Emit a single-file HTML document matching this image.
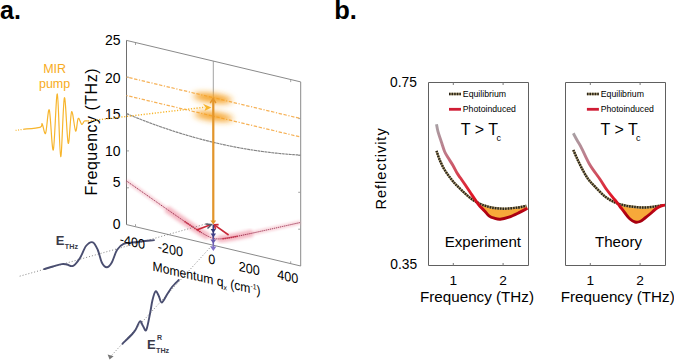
<!DOCTYPE html>
<html><head><meta charset="utf-8"><style>
html,body{margin:0;padding:0;background:#fff;}
svg{display:block;font-family:"Liberation Sans",sans-serif;}
</style></head><body>
<svg width="674" height="360" viewBox="0 0 674 360">

<defs>
 <filter id="blur3" x="-50%" y="-100%" width="200%" height="300%"><feGaussianBlur stdDeviation="3"/></filter>
 <filter id="blur1" x="-50%" y="-80%" width="200%" height="260%"><feGaussianBlur stdDeviation="1.2"/></filter>
 <filter id="blur2" x="-50%" y="-80%" width="200%" height="260%"><feGaussianBlur stdDeviation="1.8"/></filter>
 <linearGradient id="purp" gradientUnits="userSpaceOnUse" x1="0" y1="225" x2="0" y2="251"><stop offset="0" stop-color="#353878"/><stop offset="0.45" stop-color="#4a4a92"/><stop offset="0.6" stop-color="#6a5cb0"/><stop offset="1" stop-color="#8474cc"/></linearGradient>
</defs>
<text x="0" y="19" font-size="25" font-weight="bold">a.</text>
<g stroke="#8a8a8a" stroke-width="1" fill="none">
 <path d="M126.5,40.4 L300.7,81.9 L300.7,266 L126.5,224.6"/>
 <path d="M126.5,224.6 L126.5,40.4" stroke="#6e6e6e"/>
 <path d="M135.5,43.0 v2 M135.5,226.2 v-2 M290.7,80.1 v2 M290.7,263.3 v-2" stroke-width="0.8"/>
 <path d="M300.2,229.2 h-2 M127,187.8 h2 M300.2,192.3 h-2 M127,150.9 h2 M300.2,155.5 h-2 M127,114.1 h2 M300.2,118.6 h-2 M127,77.2 h2" stroke-width="0.8"/>
 <path d="M213.3,61.1 L213.3,224" stroke-width="0.8"/>
</g>
<g font-size="14" text-anchor="end">
 <text x="120.5" y="44.8">25</text>
 <text x="120.5" y="82.5">20</text>
 <text x="120.5" y="119.2">15</text>
 <text x="120.5" y="155.7">10</text>
 <text x="120.5" y="187.1">5</text>
 <text x="120.5" y="228.7">0</text>
</g>
<text transform="translate(97.2,131.8) rotate(-90)" font-size="16" letter-spacing="0.5" text-anchor="middle">Frequency (THz)</text>
<g stroke="#f6b258" stroke-width="1.25" fill="none" stroke-dasharray="1.2,1.6,3.4,1.6,3.4,1.6">
 <path d="M126.50,77.00 L300.50,118.50"/>
 <path d="M126.50,95.50 L300.50,137.00"/>
</g>
<path d="M126.50,113.60 L127.50,114.02 L128.50,114.44 L129.50,114.86 L130.50,115.27 L131.50,115.69 L132.50,116.10 L133.50,116.51 L134.50,116.91 L135.50,117.32 L136.50,117.72 L137.50,118.12 L138.50,118.52 L139.50,118.91 L140.50,119.31 L141.50,119.70 L142.50,120.09 L143.50,120.48 L144.50,120.86 L145.50,121.24 L146.50,121.63 L147.50,122.00 L148.50,122.38 L149.50,122.76 L150.50,123.13 L151.50,123.50 L152.50,123.87 L153.50,124.23 L154.50,124.60 L155.50,124.96 L156.50,125.32 L157.50,125.68 L158.50,126.03 L159.50,126.39 L160.50,126.74 L161.50,127.09 L162.50,127.44 L163.50,127.78 L164.50,128.13 L165.50,128.47 L166.50,128.81 L167.50,129.14 L168.50,129.48 L169.50,129.81 L170.50,130.14 L171.50,130.47 L172.50,130.79 L173.50,131.12 L174.50,131.44 L175.50,131.76 L176.50,132.08 L177.50,132.39 L178.50,132.71 L179.50,133.02 L180.50,133.33 L181.50,133.64 L182.50,133.94 L183.50,134.24 L184.50,134.54 L185.50,134.84 L186.50,135.14 L187.50,135.43 L188.50,135.73 L189.50,136.02 L190.50,136.30 L191.50,136.59 L192.50,136.87 L193.50,137.16 L194.50,137.44 L195.50,137.71 L196.50,137.99 L197.50,138.26 L198.50,138.53 L199.50,138.80 L200.50,139.07 L201.50,139.34 L202.50,139.60 L203.50,139.86 L204.50,140.12 L205.50,140.37 L206.50,140.63 L207.50,140.88 L208.50,141.13 L209.50,141.38 L210.50,141.62 L211.50,141.87 L212.50,142.11 L213.50,142.35 L214.50,142.59 L215.50,142.82 L216.50,143.06 L217.50,143.29 L218.50,143.52 L219.50,143.74 L220.50,143.97 L221.50,144.19 L222.50,144.41 L223.50,144.63 L224.50,144.85 L225.50,145.06 L226.50,145.27 L227.50,145.48 L228.50,145.69 L229.50,145.89 L230.50,146.10 L231.50,146.30 L232.50,146.50 L233.50,146.70 L234.50,146.89 L235.50,147.08 L236.50,147.28 L237.50,147.46 L238.50,147.65 L239.50,147.84 L240.50,148.02 L241.50,148.20 L242.50,148.38 L243.50,148.55 L244.50,148.73 L245.50,148.90 L246.50,149.07 L247.50,149.24 L248.50,149.40 L249.50,149.57 L250.50,149.73 L251.50,149.89 L252.50,150.04 L253.50,150.20 L254.50,150.35 L255.50,150.50 L256.50,150.65 L257.50,150.80 L258.50,150.94 L259.50,151.08 L260.50,151.22 L261.50,151.36 L262.50,151.50 L263.50,151.63 L264.50,151.76 L265.50,151.89 L266.50,152.02 L267.50,152.15 L268.50,152.27 L269.50,152.39 L270.50,152.51 L271.50,152.63 L272.50,152.74 L273.50,152.85 L274.50,152.97 L275.50,153.07 L276.50,153.18 L277.50,153.28 L278.50,153.39 L279.50,153.49 L280.50,153.58 L281.50,153.68 L282.50,153.77 L283.50,153.87 L284.50,153.95 L285.50,154.04 L286.50,154.13 L287.50,154.21 L288.50,154.29 L289.50,154.37 L290.50,154.45 L291.50,154.52 L292.50,154.59 L293.50,154.67 L294.50,154.73 L295.50,154.80 L296.50,154.86 L297.50,154.93 L298.50,154.99 L299.50,155.04 L300.50,155.10" stroke="#858585" stroke-width="1.15" fill="none" stroke-dasharray="3,0.5"/>
<!-- red glow band -->
<path d="M126.50,180.95 L128.50,182.35 L130.50,183.75 L132.50,185.15 L134.50,186.56 L136.50,187.96 L138.50,189.36 L140.50,190.76 L142.50,192.16 L144.50,193.56 L146.50,194.96 L148.50,196.36 L150.50,197.76 L152.50,199.16 L154.50,200.55 L156.50,201.95 L158.50,203.35 L160.50,204.74 L162.50,206.14 L164.50,207.53 L166.50,208.92 L168.50,210.31 L170.50,211.70 L172.50,213.09 L174.50,214.48 L176.50,215.86 L178.50,217.24 L180.50,218.62 L182.50,220.00 L184.50,221.37 L186.50,222.73 L188.50,224.09 L190.50,225.45 L192.50,226.79 L194.50,228.12 L196.50,229.44 L198.50,230.73 L200.50,232.00 L202.50,233.23 L204.50,234.41 L206.50,235.52 L208.50,236.53 L210.50,237.40 L212.50,238.08 L214.50,238.56 L216.50,238.83 L218.50,238.92 L220.50,238.86 L222.50,238.71 L224.50,238.48 L226.50,238.20 L228.50,237.89 L230.50,237.54 L232.50,237.18 L234.50,236.81 L236.50,236.42 L238.50,236.02 L240.50,235.61 L242.50,235.20 L244.50,234.78 L246.50,234.36 L248.50,233.94 L250.50,233.51 L252.50,233.08 L254.50,232.65 L256.50,232.21 L258.50,231.78 L260.50,231.34 L262.50,230.90 L264.50,230.46 L266.50,230.02 L268.50,229.58 L270.50,229.14 L272.50,228.70 L274.50,228.25 L276.50,227.81 L278.50,227.36 L280.50,226.92 L282.50,226.47 L284.50,226.03 L286.50,225.58 L288.50,225.13 L290.50,224.69 L292.50,224.24 L294.50,223.79 L296.50,223.34 L298.50,222.90 L300.50,222.45" stroke="#f2a8b6" stroke-width="4.5" fill="none" opacity="0.45" filter="url(#blur1)"/>
<path d="M166.50,208.92 L168.50,210.31 L170.50,211.70 L172.50,213.09 L174.50,214.48 L176.50,215.86 L178.50,217.24 L180.50,218.62 L182.50,220.00 L184.50,221.37 L186.50,222.73 L188.50,224.09 L190.50,225.45 L192.50,226.79 L194.50,228.12 L196.50,229.44 L198.50,230.73 L200.50,232.00 L202.50,233.23 L204.50,234.41 L206.50,235.52 L208.50,236.53" stroke="#f098a8" stroke-width="8" fill="none" opacity="0.5" filter="url(#blur2)"/>
<path d="M218.50,238.92 L220.50,238.86 L222.50,238.71 L224.50,238.48 L226.50,238.20 L228.50,237.89 L230.50,237.54 L232.50,237.18 L234.50,236.81 L236.50,236.42 L238.50,236.02 L240.50,235.61 L242.50,235.20 L244.50,234.78 L246.50,234.36 L248.50,233.94 L250.50,233.51 L252.50,233.08" stroke="#f098a8" stroke-width="8" fill="none" opacity="0.5" filter="url(#blur2)"/>
<path d="M126.50,180.95 L128.50,182.35 L130.50,183.75 L132.50,185.15 L134.50,186.56 L136.50,187.96 L138.50,189.36 L140.50,190.76 L142.50,192.16 L144.50,193.56 L146.50,194.96 L148.50,196.36 L150.50,197.76 L152.50,199.16 L154.50,200.55 L156.50,201.95 L158.50,203.35 L160.50,204.74 L162.50,206.14 L164.50,207.53 L166.50,208.92 L168.50,210.31 L170.50,211.70 L172.50,213.09 L174.50,214.48 L176.50,215.86 L178.50,217.24 L180.50,218.62 L182.50,220.00 L184.50,221.37 L186.50,222.73 L188.50,224.09 L190.50,225.45 L192.50,226.79 L194.50,228.12 L196.50,229.44 L198.50,230.73 L200.50,232.00 L202.50,233.23 L204.50,234.41 L206.50,235.52 L208.50,236.53 L210.50,237.40 L212.50,238.08 L214.50,238.56 L216.50,238.83 L218.50,238.92 L220.50,238.86 L222.50,238.71 L224.50,238.48 L226.50,238.20 L228.50,237.89 L230.50,237.54 L232.50,237.18 L234.50,236.81 L236.50,236.42 L238.50,236.02 L240.50,235.61 L242.50,235.20 L244.50,234.78 L246.50,234.36 L248.50,233.94 L250.50,233.51 L252.50,233.08 L254.50,232.65 L256.50,232.21 L258.50,231.78 L260.50,231.34 L262.50,230.90 L264.50,230.46 L266.50,230.02 L268.50,229.58 L270.50,229.14 L272.50,228.70 L274.50,228.25 L276.50,227.81 L278.50,227.36 L280.50,226.92 L282.50,226.47 L284.50,226.03 L286.50,225.58 L288.50,225.13 L290.50,224.69 L292.50,224.24 L294.50,223.79 L296.50,223.34 L298.50,222.90 L300.50,222.45" stroke="#9a3050" stroke-width="1" fill="none" stroke-dasharray="1.3,0.8"/>
<path d="M184.50,221.37 L185.50,222.05 L186.50,222.73 L187.50,223.41 L188.50,224.09 L189.50,224.77 L190.50,225.45 L191.50,226.12 L192.50,226.79 L193.50,227.46 L194.50,228.12 L195.50,228.78 L196.50,229.44 L197.50,230.09 L198.50,230.73 L199.50,231.37 L200.50,232.00" stroke="#c82840" stroke-width="1.6" fill="none" stroke-dasharray="1.2,0.8"/>
<path d="M222.50,238.71 L223.50,238.60 L224.50,238.48 L225.50,238.35 L226.50,238.20 L227.50,238.05 L228.50,237.89 L229.50,237.72 L230.50,237.54 L231.50,237.37 L232.50,237.18 L233.50,237.00 L234.50,236.81 L235.50,236.61 L236.50,236.42 L237.50,236.22" stroke="#c82840" stroke-width="1.6" fill="none" stroke-dasharray="1.2,0.8"/>
<g filter="url(#blur3)" fill="#f5a020">
 <ellipse cx="0" cy="0" rx="19.5" ry="4.4" transform="translate(212.5,98.1) rotate(7.5)"/>
 <ellipse cx="0" cy="0" rx="19.5" ry="4.1" transform="translate(213.6,116.4) rotate(7.5)"/>
</g>
<!-- orange vertical arrow -->
<path d="M213.3,222 L213.3,100" stroke="#e3952a" stroke-width="2.2" fill="none"/>
<path d="M210.2,103 L213.1,98.6 L215.9,103" stroke="#e3952a" stroke-width="1.4" fill="none"/>
<path d="M210.4,220.4 L216.2,220.4 L213.3,224.6 Z" fill="#e3952a"/>
<!-- MIR -->
<text x="54.6" y="72.9" font-size="12.5" fill="#f7ab22" text-anchor="middle">MIR</text>
<text x="54.6" y="87.6" font-size="12.5" fill="#f7ab22" text-anchor="middle">pump</text>
<path d="M15.6,130.4 L23.3,129.3" stroke="#f7b52c" stroke-width="1.2" stroke-dasharray="1,1.5" fill="none"/>
<path d="M23.30,129.30 C26.08,128.97 36.85,128.22 40.00,127.30 C43.15,126.38 41.27,122.80 42.20,123.80 C43.13,124.80 44.42,135.60 45.60,133.30 C46.78,131.00 48.02,107.22 49.30,110.00 C50.58,112.78 51.97,152.67 53.30,150.00 C54.63,147.33 56.07,92.88 57.30,94.00 C58.53,95.12 59.52,156.07 60.70,156.70 C61.88,157.33 63.15,100.03 64.40,97.80 C65.65,95.57 67.00,140.97 68.20,143.30 C69.40,145.63 70.37,113.83 71.60,111.80 C72.83,109.77 74.50,130.00 75.60,131.10 C76.70,132.20 77.17,119.52 78.20,118.40 C79.23,117.28 80.77,123.95 81.80,124.40 C82.83,124.85 83.37,121.67 84.40,121.10 C85.43,120.53 87.40,121.02 88.00,121.00" stroke="#f7b52c" stroke-width="1.2" fill="none"/>
<path d="M88,121 L205,107.2" stroke="#f7b52c" stroke-width="1.4" stroke-dasharray="1.2,1.6" fill="none"/>
<path d="M203,103.8 L211.4,107.6 L204.5,111 L205.8,107.5 Z" fill="#f7b52c"/>
<!-- red arrows -->
<g stroke="#c82838" stroke-width="1.6" fill="none">
 <path d="M196.7,230 L210.5,224.8"/>
 <path d="M228.6,235 L215,225.3"/>
 <path d="M215.5,229 L214.3,224.8 L218.6,224.6" />
</g>
<path d="M205.5,224 L211.5,224.6 L207.5,228.6" stroke="#555566" stroke-width="1.4" fill="none"/>
<!-- purple arrows -->
<path d="M213.3,225 L213.3,249" stroke="url(#purp)" stroke-width="1.6" fill="none"/>
<path d="M210.6,229 L216,229 L213.3,233 Z" fill="#353878"/>
<path d="M210.6,233.6 L216,233.6 L213.3,237.4 Z" fill="#404088"/>
<path d="M210.4,239.4 L216.2,239.4 L213.3,243.4 Z" fill="#6658ac"/>
<path d="M210.2,246.4 L216.4,246.4 L213.3,251 Z" fill="#8070c8"/>
<!-- beams -->
<path d="M19.7,276.2 L208,223.3" stroke="#777" stroke-width="0.9" stroke-dasharray="1,2" fill="none"/>
<path d="M211.5,246 L110.8,356.3" stroke="#777" stroke-width="0.9" stroke-dasharray="1,2" fill="none"/>
<path d="M107.6,354.4 L109.6,359.4 L113.6,356.2 Z" fill="#777"/>
<path d="M44.10,269.10 C45.58,268.67 50.05,267.33 53.00,266.50 C55.95,265.67 59.47,264.43 61.80,264.10 C64.13,263.77 65.12,264.20 67.00,264.50 C68.88,264.80 70.93,266.98 73.10,265.90 C75.27,264.82 77.85,261.32 80.00,258.00 C82.15,254.68 83.87,248.62 86.00,246.00 C88.13,243.38 90.83,241.63 92.80,242.30 C94.77,242.97 96.30,246.63 97.80,250.00 C99.30,253.37 100.30,259.62 101.80,262.50 C103.30,265.38 105.13,267.30 106.80,267.30 C108.47,267.30 110.10,265.38 111.80,262.50 C113.50,259.62 115.03,253.10 117.00,250.00 C118.97,246.90 120.60,245.20 123.60,243.90 C126.60,242.60 129.93,242.83 135.00,242.20 C140.07,241.57 150.83,240.45 154.00,240.10" stroke="#4a4e70" stroke-width="1.9" fill="none" stroke-linecap="round"/>
<path d="M178.75,280.00 C177.62,281.17 173.88,284.71 172.00,287.00 C170.12,289.29 169.20,291.17 167.50,293.75 C165.80,296.33 163.25,302.12 161.80,302.50 C160.35,302.88 159.83,297.88 158.80,296.00 C157.77,294.12 156.65,290.58 155.60,291.25 C154.55,291.92 153.43,296.25 152.50,300.00 C151.57,303.75 151.04,308.75 150.00,313.75 C148.96,318.75 147.42,327.96 146.25,330.00 C145.08,332.04 144.04,327.46 143.00,326.00 C141.96,324.54 141.17,320.75 140.00,321.25 C138.83,321.75 137.25,326.92 136.00,329.00 C134.75,331.08 134.75,331.29 132.50,333.75 C130.25,336.21 124.17,342.08 122.50,343.75" stroke="#4a4e70" stroke-width="1.9" fill="none" stroke-linecap="round"/>
<text x="55.8" y="244.8" font-size="13" font-weight="bold" fill="#3a3a48">E</text>
<text x="64.8" y="249.4" font-size="7.2" font-weight="bold" fill="#3a3a48">THz</text>
<text x="147" y="348.6" font-size="13" font-weight="bold" fill="#3a3a48">E</text>
<text x="157" y="340" font-size="7" font-weight="bold" fill="#3a3a48">R</text>
<text x="156" y="353.3" font-size="7.2" font-weight="bold" fill="#3a3a48">THz</text>
<!-- momentum labels -->
<g font-size="13.6" text-anchor="middle">
 <text transform="translate(132.5,246.5) skewY(13) scale(0.93,1)">-400</text>
 <text transform="translate(170.3,254) skewY(13) scale(0.93,1)">-200</text>
 <text transform="translate(211.7,264) skewY(13) scale(0.93,1)">0</text>
 <text transform="translate(249.3,273.2) skewY(13) scale(0.93,1)">200</text>
 <text transform="translate(287.7,281.2) skewY(13) scale(0.93,1)">400</text>
</g>
<text transform="translate(152.6,270.5) skewY(13) scale(0.92,1)" font-size="13.2">Momentum q<tspan font-size="7.5" dy="2.8">x</tspan><tspan dy="-2.8"> (cm</tspan><tspan font-size="7.5" dy="-4.5">-1</tspan><tspan dy="4.5">)</tspan></text>
<text x="334.2" y="19" font-size="25.5" font-weight="bold">b.</text>
<clipPath id="c1"><rect x="475" y="82.5" width="53.5" height="183"/></clipPath>
<path d="M436.50,150.80 C437.03,152.33 438.33,156.80 439.70,160.00 C441.07,163.20 442.77,166.80 444.70,170.00 C446.63,173.20 449.08,176.42 451.30,179.20 C453.52,181.98 454.38,183.23 458.00,186.70 C461.62,190.17 468.00,196.67 473.00,200.00 C478.00,203.33 483.00,205.25 488.00,206.70 C493.00,208.15 498.00,208.57 503.00,208.70 C508.00,208.83 514.12,207.98 518.00,207.50 C521.88,207.02 524.92,206.08 526.30,205.80 L527.5,208.2 527.50,208.20 C526.02,208.98 521.70,211.40 518.60,212.90 C515.50,214.40 511.97,216.15 508.90,217.20 C505.83,218.25 502.63,219.03 500.20,219.20 C497.77,219.37 496.17,218.77 494.30,218.20 C492.43,217.63 490.62,217.02 489.00,215.80 C487.38,214.58 486.15,212.53 484.60,210.90 C483.05,209.27 481.17,207.70 479.70,206.00 C478.23,204.30 477.42,203.03 475.80,200.70 C474.18,198.37 471.80,194.70 470.00,192.00 C468.20,189.30 466.58,186.83 465.00,184.50 C463.42,182.17 461.80,179.87 460.50,178.00 C459.20,176.13 458.45,175.38 457.20,173.30 C455.95,171.22 454.53,168.13 453.00,165.50 C451.47,162.87 449.38,159.80 448.00,157.50 C446.62,155.20 445.82,154.33 444.70,151.70 C443.58,149.07 442.42,145.03 441.30,141.70 C440.18,138.37 438.80,134.62 438.00,131.70 C437.20,128.78 436.75,125.45 436.50,124.20 Z" fill="#f7a93a" clip-path="url(#c1)"/>
<path d="M436.50,150.80 C437.03,152.33 438.33,156.80 439.70,160.00 C441.07,163.20 442.77,166.80 444.70,170.00 C446.63,173.20 449.08,176.42 451.30,179.20 C453.52,181.98 454.38,183.23 458.00,186.70 C461.62,190.17 468.00,196.67 473.00,200.00 C478.00,203.33 483.00,205.25 488.00,206.70 C493.00,208.15 498.00,208.57 503.00,208.70 C508.00,208.83 514.12,207.98 518.00,207.50 C521.88,207.02 524.92,206.08 526.30,205.80" stroke="#a89870" stroke-width="2.4" fill="none"/>
<path d="M436.50,150.80 C437.03,152.33 438.33,156.80 439.70,160.00 C441.07,163.20 442.77,166.80 444.70,170.00 C446.63,173.20 449.08,176.42 451.30,179.20 C453.52,181.98 454.38,183.23 458.00,186.70 C461.62,190.17 468.00,196.67 473.00,200.00 C478.00,203.33 483.00,205.25 488.00,206.70 C493.00,208.15 498.00,208.57 503.00,208.70 C508.00,208.83 514.12,207.98 518.00,207.50 C521.88,207.02 524.92,206.08 526.30,205.80" stroke="#2a2418" stroke-width="2.4" fill="none" stroke-dasharray="1.5,1.1"/>
<path d="M436.50,124.20 C436.75,125.45 437.20,128.78 438.00,131.70 C438.80,134.62 440.18,138.37 441.30,141.70 C442.42,145.03 443.58,149.07 444.70,151.70 C445.82,154.33 446.62,155.20 448.00,157.50 C449.38,159.80 451.47,162.87 453.00,165.50 C454.53,168.13 455.95,171.22 457.20,173.30 C458.45,175.38 459.20,176.13 460.50,178.00 C461.80,179.87 463.42,182.17 465.00,184.50 C466.58,186.83 468.20,189.30 470.00,192.00 C471.80,194.70 474.18,198.37 475.80,200.70 C477.42,203.03 478.23,204.30 479.70,206.00 C481.17,207.70 483.05,209.27 484.60,210.90 C486.15,212.53 487.38,214.58 489.00,215.80 C490.62,217.02 492.43,217.63 494.30,218.20 C496.17,218.77 497.77,219.37 500.20,219.20 C502.63,219.03 505.83,218.25 508.90,217.20 C511.97,216.15 515.50,214.40 518.60,212.90 C521.70,211.40 526.02,208.98 527.50,208.20" stroke="url(#rgc1)" stroke-width="2.9" fill="none" stroke-linejoin="round"/>
<linearGradient id="rgc1" gradientUnits="userSpaceOnUse" x1="0" y1="124.2" x2="0" y2="222">
<stop offset="0" stop-color="#a8a0a4"/><stop offset="0.3" stop-color="#c07888"/><stop offset="0.55" stop-color="#d83848"/><stop offset="0.72" stop-color="#e01828"/><stop offset="0.85" stop-color="#c80818"/><stop offset="0.93" stop-color="#a80010"/><stop offset="1" stop-color="#a80010"/></linearGradient>
<path d="M428.5,82.5 H528.5 V265.5 H428.5 Z" stroke="#606060" stroke-width="1" fill="none"/>
<path d="M453.3,82.5 v2.5 M503.1,82.5 v2.5 M453.3,265.5 v-2.5 M503.1,265.5 v-2.5" stroke="#777" stroke-width="1"/>
<path d="M449.0,94 h12" stroke="#a89870" stroke-width="2.5"/>
<path d="M449.0,94 h12" stroke="#2a2418" stroke-width="2.5" stroke-dasharray="1.5,1.1"/>
<path d="M449.0,109.3 h12" stroke="#d01c34" stroke-width="2.8"/>
<text x="462.8" y="96.7" font-size="8.75">Equilibrium</text>
<text x="462.8" y="112.1" font-size="8.7">Photoinduced</text>
<text x="460.8" y="134.7" font-size="16">T &gt; T<tspan font-size="9" dx="-1.6" dy="6.2">c</tspan></text>
<text x="482.9" y="247.3" font-size="15.1" text-anchor="middle">Experiment</text>
<text x="453.3" y="284.6" font-size="13.7" text-anchor="middle">1</text>
<text x="503.1" y="284.6" font-size="13.7" text-anchor="middle">2</text>
<text x="477" y="302.2" font-size="15.2" text-anchor="middle">Frequency (THz)</text>
<clipPath id="c2"><rect x="617" y="82.5" width="48.5" height="183"/></clipPath>
<path d="M573.30,150.00 C574.08,151.75 576.38,157.08 578.00,160.50 C579.62,163.92 581.28,167.38 583.00,170.50 C584.72,173.62 586.30,176.50 588.30,179.20 C590.30,181.90 592.22,183.82 595.00,186.70 C597.78,189.58 601.67,193.87 605.00,196.50 C608.33,199.13 611.67,201.00 615.00,202.50 C618.33,204.00 621.67,204.75 625.00,205.50 C628.33,206.25 631.67,206.67 635.00,207.00 C638.33,207.33 641.67,207.58 645.00,207.50 C648.33,207.42 652.17,206.87 655.00,206.50 C657.83,206.13 660.83,205.50 662.00,205.30 L665.5,205 665.50,205.00 C665.00,205.08 663.58,205.17 662.50,205.50 C661.42,205.83 660.25,206.33 659.00,207.00 C657.75,207.67 656.50,208.33 655.00,209.50 C653.50,210.67 651.67,212.58 650.00,214.00 C648.33,215.42 646.67,216.75 645.00,218.00 C643.33,219.25 641.67,220.83 640.00,221.50 C638.33,222.17 636.67,222.42 635.00,222.00 C633.33,221.58 631.67,220.50 630.00,219.00 C628.33,217.50 626.67,215.08 625.00,213.00 C623.33,210.92 621.67,208.67 620.00,206.50 C618.33,204.33 617.17,202.75 615.00,200.00 C612.83,197.25 609.50,193.47 607.00,190.00 C604.50,186.53 602.83,183.37 600.00,179.20 C597.17,175.03 593.05,170.15 590.00,165.00 C586.95,159.85 583.78,152.30 581.70,148.30 C579.62,144.30 578.90,143.50 577.50,141.00 C576.10,138.50 574.00,134.58 573.30,133.30 Z" fill="#f7a93a" clip-path="url(#c2)"/>
<path d="M573.30,150.00 C574.08,151.75 576.38,157.08 578.00,160.50 C579.62,163.92 581.28,167.38 583.00,170.50 C584.72,173.62 586.30,176.50 588.30,179.20 C590.30,181.90 592.22,183.82 595.00,186.70 C597.78,189.58 601.67,193.87 605.00,196.50 C608.33,199.13 611.67,201.00 615.00,202.50 C618.33,204.00 621.67,204.75 625.00,205.50 C628.33,206.25 631.67,206.67 635.00,207.00 C638.33,207.33 641.67,207.58 645.00,207.50 C648.33,207.42 652.17,206.87 655.00,206.50 C657.83,206.13 660.83,205.50 662.00,205.30" stroke="#a89870" stroke-width="2.4" fill="none"/>
<path d="M573.30,150.00 C574.08,151.75 576.38,157.08 578.00,160.50 C579.62,163.92 581.28,167.38 583.00,170.50 C584.72,173.62 586.30,176.50 588.30,179.20 C590.30,181.90 592.22,183.82 595.00,186.70 C597.78,189.58 601.67,193.87 605.00,196.50 C608.33,199.13 611.67,201.00 615.00,202.50 C618.33,204.00 621.67,204.75 625.00,205.50 C628.33,206.25 631.67,206.67 635.00,207.00 C638.33,207.33 641.67,207.58 645.00,207.50 C648.33,207.42 652.17,206.87 655.00,206.50 C657.83,206.13 660.83,205.50 662.00,205.30" stroke="#2a2418" stroke-width="2.4" fill="none" stroke-dasharray="1.5,1.1"/>
<path d="M573.30,133.30 C574.00,134.58 576.10,138.50 577.50,141.00 C578.90,143.50 579.62,144.30 581.70,148.30 C583.78,152.30 586.95,159.85 590.00,165.00 C593.05,170.15 597.17,175.03 600.00,179.20 C602.83,183.37 604.50,186.53 607.00,190.00 C609.50,193.47 612.83,197.25 615.00,200.00 C617.17,202.75 618.33,204.33 620.00,206.50 C621.67,208.67 623.33,210.92 625.00,213.00 C626.67,215.08 628.33,217.50 630.00,219.00 C631.67,220.50 633.33,221.58 635.00,222.00 C636.67,222.42 638.33,222.17 640.00,221.50 C641.67,220.83 643.33,219.25 645.00,218.00 C646.67,216.75 648.33,215.42 650.00,214.00 C651.67,212.58 653.50,210.67 655.00,209.50 C656.50,208.33 657.75,207.67 659.00,207.00 C660.25,206.33 661.42,205.83 662.50,205.50 C663.58,205.17 665.00,205.08 665.50,205.00" stroke="url(#rgc2)" stroke-width="2.9" fill="none" stroke-linejoin="round"/>
<linearGradient id="rgc2" gradientUnits="userSpaceOnUse" x1="0" y1="133.3" x2="0" y2="222">
<stop offset="0" stop-color="#a8a0a4"/><stop offset="0.3" stop-color="#c07888"/><stop offset="0.55" stop-color="#d83848"/><stop offset="0.72" stop-color="#e01828"/><stop offset="0.85" stop-color="#c80818"/><stop offset="0.93" stop-color="#a80010"/><stop offset="1" stop-color="#a80010"/></linearGradient>
<path d="M565.5,82.5 H665.5 V265.5 H565.5 Z" stroke="#606060" stroke-width="1" fill="none"/>
<path d="M590.3,82.5 v2.5 M640.1,82.5 v2.5 M590.3,265.5 v-2.5 M640.1,265.5 v-2.5" stroke="#777" stroke-width="1"/>
<path d="M586.9000000000001,94 h12" stroke="#a89870" stroke-width="2.5"/>
<path d="M586.9000000000001,94 h12" stroke="#2a2418" stroke-width="2.5" stroke-dasharray="1.5,1.1"/>
<path d="M586.9000000000001,109.3 h12" stroke="#d01c34" stroke-width="2.8"/>
<text x="600.7" y="96.7" font-size="8.75">Equilibrium</text>
<text x="600.7" y="112.1" font-size="8.7">Photoinduced</text>
<text x="600.5" y="134.7" font-size="16">T &gt; T<tspan font-size="9" dx="-1.6" dy="6.2">c</tspan></text>
<text x="618.5" y="247.3" font-size="15.1" text-anchor="middle">Theory</text>
<text x="590.3" y="284.6" font-size="13.7" text-anchor="middle">1</text>
<text x="640.1" y="284.6" font-size="13.7" text-anchor="middle">2</text>
<text x="617.75" y="302.2" font-size="15.2" text-anchor="middle">Frequency (THz)</text>
<text x="416.9" y="87.2" font-size="13.8" text-anchor="end">0.75</text>
<text x="417.1" y="269.4" font-size="13.8" text-anchor="end">0.35</text>
<text transform="translate(386.1,168.4) rotate(-90)" font-size="14.5" letter-spacing="1.0" text-anchor="middle">Reflectivity</text>
</svg>
</body></html>
